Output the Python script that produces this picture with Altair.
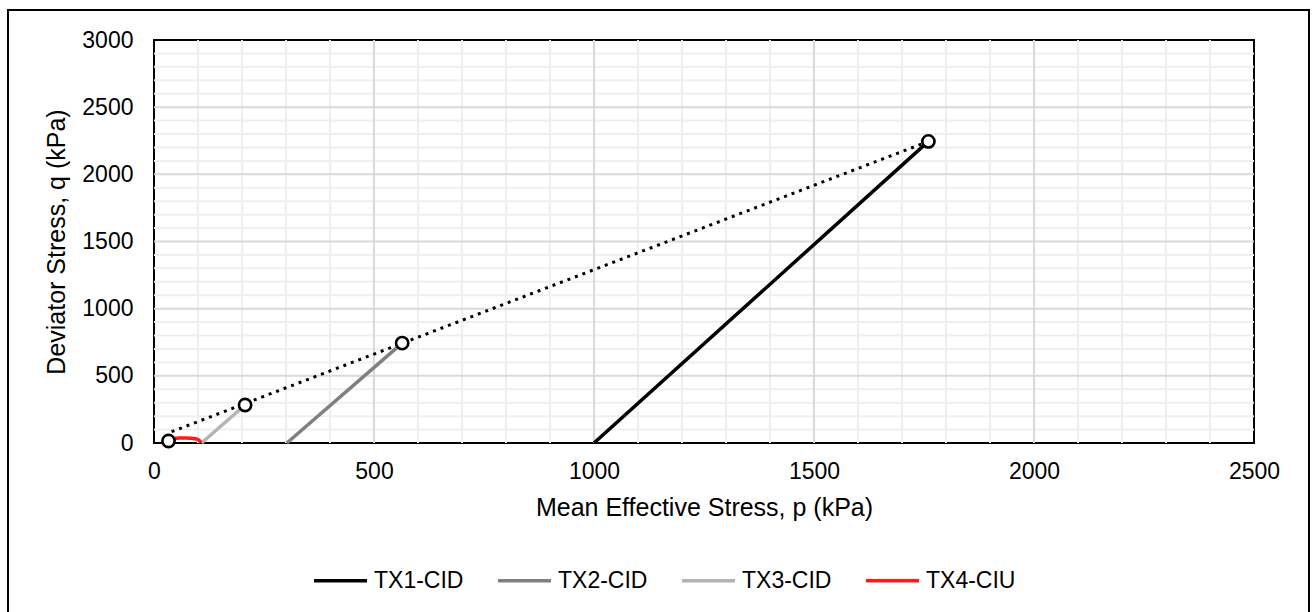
import altair as alt
import pandas as pd

# Effective stress paths, mean effective stress p and deviator stress q (kPa)
tx1_p = [1000, 1760]
tx1_q = [0, 2245]
tx2_p = [302, 564]
tx2_q = [0, 744]
tx3_p = [108, 207]
tx3_q = [0, 283]
tx4_p = [106, 105, 101, 94, 83, 70, 57, 46, 38, 33]
tx4_q = [0, 12, 24, 32, 36, 38, 37, 33, 25, 15]

# Peak (failure) states of each test
peak_p = [33, 207, 564, 1760]
peak_q = [15, 283, 744, 2245]

# Failure envelope drawn through the peak states
env_p = [40, 1760]
env_q = [84, 2245]

tests = ["TX1-CID", "TX2-CID", "TX3-CID", "TX4-CIU"]
colors = ["#000000", "#808080", "#b4b4b4", "#ff1a1a"]

x_minor = [v for v in range(100, 2500, 100) if v % 500]
y_minor = [v for v in range(100, 3000, 100) if v % 500]
x_major = [500, 1000, 1500, 2000]
y_major = [500, 1000, 1500, 2000, 2500]

rows = []
for name, ps, qs in zip(tests, [tx1_p, tx2_p, tx3_p, tx4_p], [tx1_q, tx2_q, tx3_q, tx4_q]):
    for i, (p, q) in enumerate(zip(ps, qs)):
        rows.append({"test": name, "p": p, "q": q, "i": i})
paths = pd.DataFrame(rows)
peaks = pd.DataFrame({"p": peak_p, "q": peak_q})
envelope = pd.DataFrame({"p": env_p, "q": env_q})

xs = alt.Scale(domain=[0, 2500], nice=False, zero=True)
ys = alt.Scale(domain=[0, 3000], nice=False, zero=True)

x_axis = alt.Axis(
    values=[0, 500, 1000, 1500, 2000, 2500], format="d", grid=False, ticks=False, domain=False,
    labelFontSize=23, labelColor="#000000", labelPadding=17, labelFlush=False,
    title="Mean Effective Stress, p (kPa)", titleFontSize=25, titleFontWeight="normal",
    titleColor="#000000", titlePadding=12,
)
y_axis = alt.Axis(
    values=[0, 500, 1000, 1500, 2000, 2500, 3000], format="d", grid=False, ticks=False, domain=False,
    labelFontSize=23, labelColor="#000000", labelPadding=21, labelFlush=False,
    title="Deviator Stress, q (kPa)", titleFontSize=25, titleFontWeight="normal",
    titleColor="#000000", titlePadding=12,
)

minor_v = alt.Chart(pd.DataFrame({"p": x_minor})).mark_rule(color="#efefef", strokeWidth=2).encode(
    x=alt.X("p:Q", scale=xs, axis=x_axis)
)
minor_h = alt.Chart(pd.DataFrame({"q": y_minor})).mark_rule(color="#efefef", strokeWidth=2).encode(
    y=alt.Y("q:Q", scale=ys, axis=y_axis)
)
major_v = alt.Chart(pd.DataFrame({"p": x_major})).mark_rule(color="#d9d9d9", strokeWidth=2).encode(
    x=alt.X("p:Q", scale=xs)
)
major_h = alt.Chart(pd.DataFrame({"q": y_major})).mark_rule(color="#d9d9d9", strokeWidth=2).encode(
    y=alt.Y("q:Q", scale=ys)
)

lines = alt.Chart(paths).mark_line(strokeWidth=3.5).encode(
    x=alt.X("p:Q", scale=xs),
    y=alt.Y("q:Q", scale=ys),
    color=alt.Color(
        "test:N",
        scale=alt.Scale(domain=tests, range=colors),
        legend=alt.Legend(
            title=None, orient="none", direction="horizontal", columns=4,
            legendX=158, legendY=512, padding=0,
            symbolType="stroke", symbolSize=2809, symbolStrokeWidth=3.5,
            labelFontSize=23, labelColor="#000000", labelOffset=5,
            columnPadding=27,
        ),
    ),
    detail="test:N",
    order=alt.Order("i:Q"),
)

env_line = alt.Chart(envelope).mark_line(
    color="#000000", strokeWidth=3, strokeDash=[3, 5]
).encode(x=alt.X("p:Q", scale=xs), y=alt.Y("q:Q", scale=ys))

peak_pts = alt.Chart(peaks).mark_point(
    shape="circle", size=150, filled=False, stroke="#000000", strokeWidth=2.6,
    fill="#ffffff", fillOpacity=1, opacity=1,
).encode(x=alt.X("p:Q", scale=xs), y=alt.Y("q:Q", scale=ys))

frame = alt.Chart(pd.DataFrame({"k": [0]})).mark_rect(
    fill=None, stroke="#000000", strokeWidth=2
).encode(
    x=alt.value(-146), x2=alt.value(1155), y=alt.value(-30), y2=alt.value(576)
)

chart = alt.layer(
    minor_v, minor_h, major_v, major_h, lines, env_line, peak_pts, frame
).properties(
    width=1100, height=403,
    autosize=alt.AutoSizeParams(type="none"),
    padding={"left": 154, "top": 40, "right": 58, "bottom": 169},
    background="#ffffff",
).configure(
    font="Liberation Sans",
    view=alt.ViewConfig(stroke="#000000", strokeWidth=2),
)

chart.save("out.html", embed_options={"renderer": "svg", "actions": False})
